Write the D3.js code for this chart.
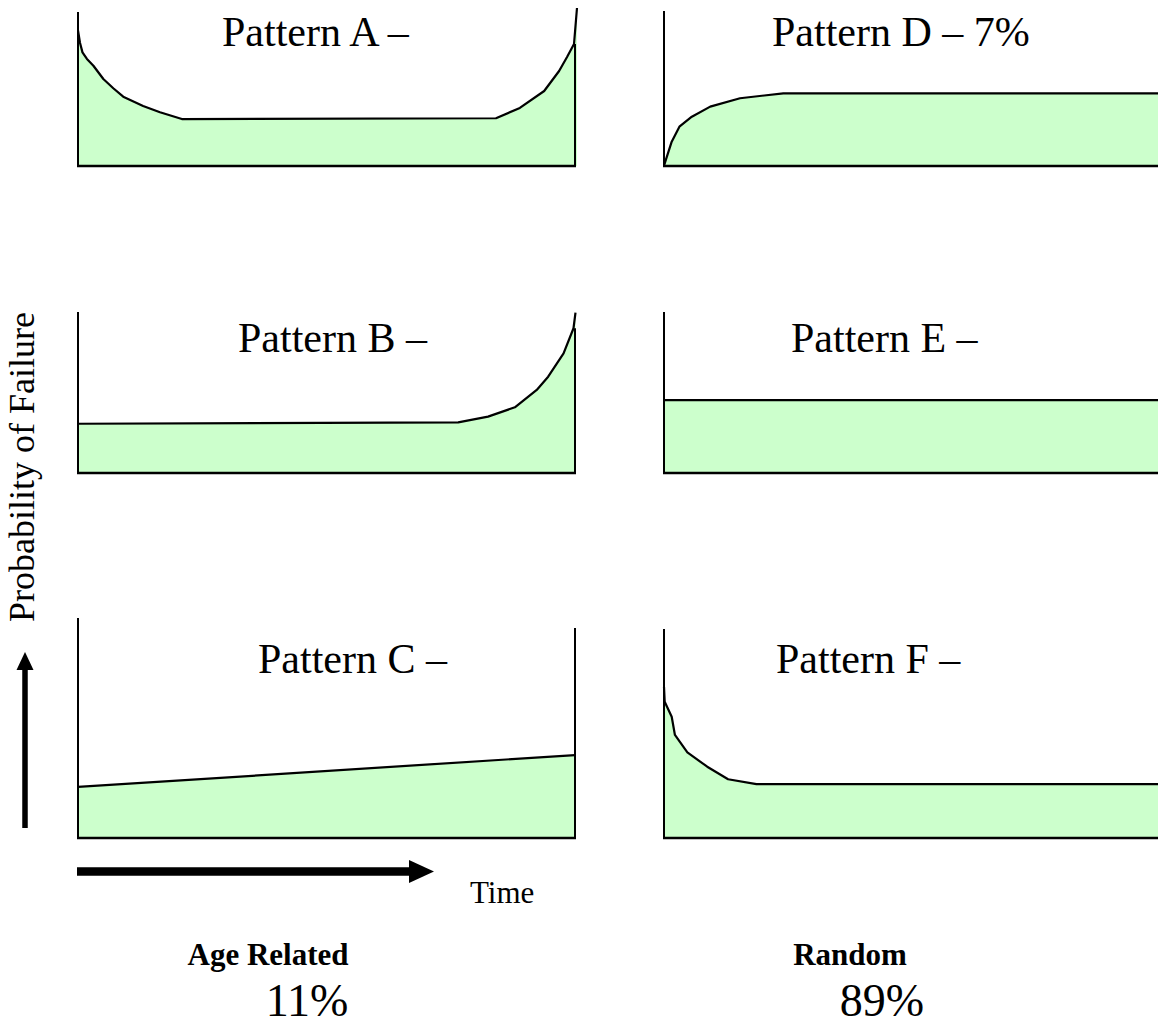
<!DOCTYPE html>
<html>
<head>
<meta charset="utf-8">
<script src="https://cdn.jsdelivr.net/npm/d3@7"></script>
<style>
  html, body { margin: 0; padding: 0; background: #ffffff; overflow: hidden; }
  svg { display: block; }
  text { font-family: "Liberation Serif", "Times New Roman", serif; fill: #000; }
</style>
</head>
<body>
<svg id="chart" width="1158" height="1027"></svg>
<script>
// ---------------- DATA ----------------
const patternNames = ["A", "B", "C", "D", "E", "F"];
const patternTitles = ["Pattern A \u2013", "Pattern B \u2013", "Pattern C \u2013", "Pattern D \u2013 7%", "Pattern E \u2013", "Pattern F \u2013"];

// time (0..100 of panel width) and probability (0..100 of panel axis height)
const timeA = [0, 0.4, 0.9, 1.8, 3.1, 5.1, 7.1, 9.1, 13.1, 16.5, 20.9, 84.1, 88.9, 93.8, 96.8, 98.4, 99.8, 100.4];
const probA = [88, 80, 73.8, 69.5, 65.1, 56.5, 50.5, 45, 39, 34.9, 30.5, 31, 37.7, 48.7, 61.7, 70.8, 79.2, 102.6];

const timeB = [0, 76.5, 82.5, 87.9, 92.3, 94.6, 97.7, 99.7, 100.1];
const probB = [30.6, 31.4, 35, 40.8, 51.6, 59.8, 74.3, 89.9, 99.6];

const timeC = [0, 100];
const probC = [23.2, 37.7];

const timeD = [0, 1.55, 3.1, 5.6, 9.3, 15.3, 24, 100];
const probD = [0.2, 15.7, 25.4, 31.8, 38.3, 43.7, 46.9, 46.9];

const timeE = [0, 100];
const probE = [45.3, 45.3];

const timeF = [0, 0.14, 1.55, 2.2, 4.7, 8.7, 12.9, 18.6, 100];
const probF = [72.4, 65.2, 58, 49.3, 41, 34.1, 28.1, 25.8, 25.8];

// how far up the right-hand frame line of the left-column panels reaches (probability units)
const rightFrameTop = [79.2, 89.9, 95.5];

const groupLabels = ["Age Related", "Random"];
const groupShares = ["11%", "89%"];
const yAxisLabel = "Probability of Failure";
const xAxisLabel = "Time";

// ---------------- LAYOUT ----------------
const panelWidth = 497;
const colX = [78, 664];
const panelLayout = [
  { col: 0, base: 166, top: 12,  tx: 222, ty: 46 },
  { col: 0, base: 473, top: 312, tx: 238, ty: 352 },
  { col: 0, base: 838, top: 618, tx: 258, ty: 673 },
  { col: 1, base: 166, top: 11,  tx: 772, ty: 46 },
  { col: 1, base: 473, top: 312, tx: 791, ty: 352 },
  { col: 1, base: 838, top: 629, tx: 776, ty: 673 }
];

const series = [
  [timeA, probA], [timeB, probB], [timeC, probC],
  [timeD, probD], [timeE, probE], [timeF, probF]
];

const svg = d3.select("#chart");
const fillColor = "#ccffcc";

patternNames.forEach((name, i) => {
  const L = panelLayout[i];
  const x0 = colX[L.col];
  const x = d3.scaleLinear().domain([0, 100]).range([x0, x0 + panelWidth]);
  const y = d3.scaleLinear().domain([0, 100]).range([L.base, L.top]);
  const [ts, ps] = series[i];
  const pts = ts.map((t, k) => ({ t: t, p: ps[k] }));

  const g = svg.append("g").attr("class", "panel panel-" + name);

  g.append("path")
    .datum(pts)
    .attr("fill", fillColor)
    .attr("stroke", "none")
    .attr("d", d3.area().x(d => x(d.t)).y0(y(0)).y1(d => y(d.p)));

  g.append("path")
    .datum(pts)
    .attr("fill", "none")
    .attr("stroke", "#000")
    .attr("stroke-width", 2.2)
    .attr("stroke-linejoin", "round")
    .attr("d", d3.line().x(d => x(d.t)).y(d => y(d.p)));

  // frame: left axis, baseline, right edge
  g.append("line")
    .attr("x1", x(0)).attr("x2", x(0))
    .attr("y1", y(0)).attr("y2", y(100))
    .attr("stroke", "#000").attr("stroke-width", 2);
  g.append("line")
    .attr("x1", x(0) - 1).attr("x2", x(100) + 1)
    .attr("y1", y(0)).attr("y2", y(0))
    .attr("stroke", "#000").attr("stroke-width", 2.5);
  if (L.col === 0) {
    g.append("line")
      .attr("x1", x(100)).attr("x2", x(100))
      .attr("y1", y(0)).attr("y2", y(rightFrameTop[i]))
      .attr("stroke", "#000").attr("stroke-width", 2);
  }

  g.append("text")
    .attr("x", L.tx).attr("y", L.ty)
    .attr("font-size", 42)
    .text(patternTitles[i]);
});

// ---------------- AXIS ARROWS & LABELS ----------------
// vertical arrow
svg.append("path")
  .attr("d", d3.line()([[25, 828], [25, 668]]))
  .attr("stroke", "#000").attr("stroke-width", 5.5).attr("fill", "none");
svg.append("path")
  .attr("d", d3.line()([[16.5, 670], [25, 652], [33.5, 670]]) + "Z")
  .attr("fill", "#000");

// horizontal arrow
svg.append("path")
  .attr("d", d3.line()([[77, 871.5], [412, 871.5]]))
  .attr("stroke", "#000").attr("stroke-width", 8.5).attr("fill", "none");
svg.append("path")
  .attr("d", d3.line()([[409, 860], [434, 871.5], [409, 883]]) + "Z")
  .attr("fill", "#000");

svg.append("text")
  .attr("transform", "translate(34,467) rotate(-90)")
  .attr("text-anchor", "middle")
  .attr("font-size", 36)
  .text(yAxisLabel);

svg.append("text")
  .attr("x", 470).attr("y", 903)
  .attr("font-size", 31)
  .text(xAxisLabel);

// ---------------- GROUP SUMMARY ----------------
const groupCenters = [268, 850];
const shareCenters = [307, 882];
groupLabels.forEach((lab, i) => {
  svg.append("text")
    .attr("x", groupCenters[i]).attr("y", 965)
    .attr("text-anchor", "middle")
    .attr("font-size", 31)
    .attr("font-weight", "bold")
    .text(lab);
  svg.append("text")
    .attr("x", shareCenters[i]).attr("y", 1016)
    .attr("text-anchor", "middle")
    .attr("font-size", 46)
    .text(groupShares[i]);
});
</script>
</body>
</html>
